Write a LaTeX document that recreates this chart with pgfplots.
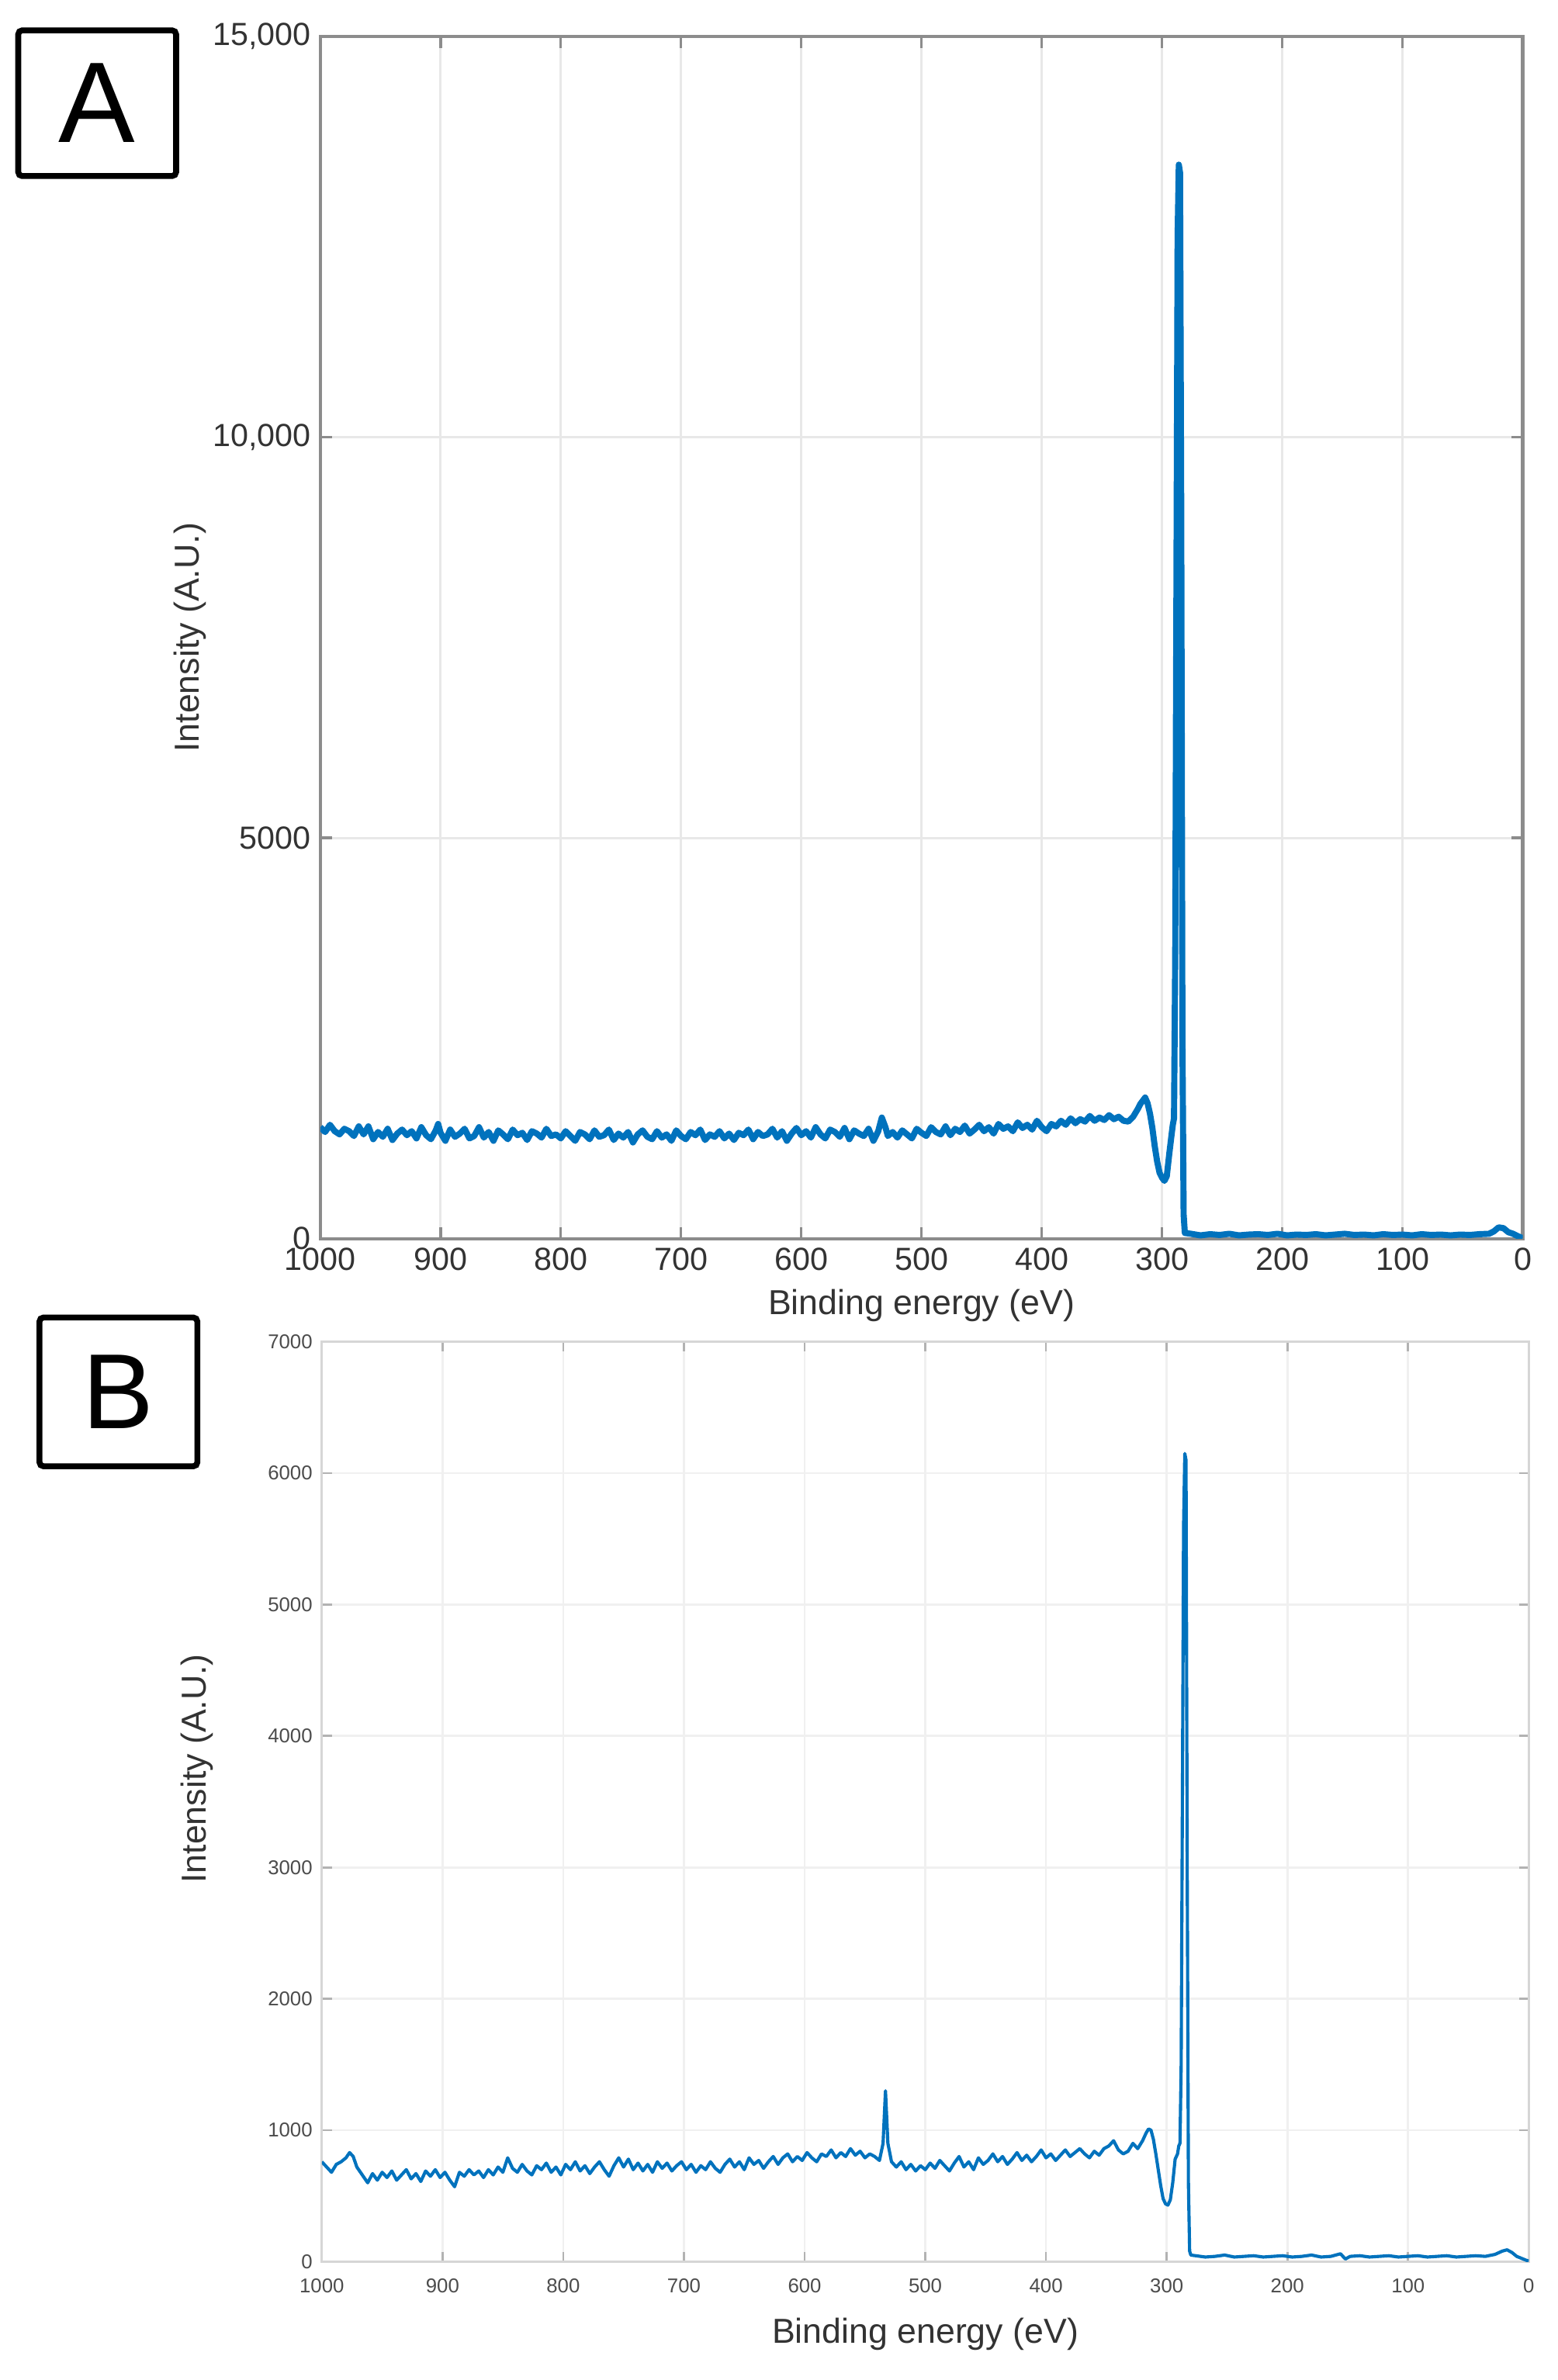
\documentclass[border=0pt]{standalone}
\usepackage{fontspec}
\setmainfont{Liberation Sans}
\usepackage{pgfplots}
\pgfplotsset{compat=1.18}
\definecolor{mblue}{HTML}{0072BD}
\definecolor{axA}{HTML}{8C8C8C}
\definecolor{gridA}{HTML}{E8E8E8}
\definecolor{axB}{HTML}{D6D6D6}
\definecolor{gridB}{HTML}{F0F0F0}
\definecolor{txt}{HTML}{333333}

\pgfplotstableread{
x y
1000 1390
996 1330
992 1420
988 1340
984 1300
980 1370
976 1340
972 1280
968 1400
964 1300
960 1400
956 1240
952 1330
948 1270
944 1370
940 1230
936 1310
932 1360
928 1290
924 1340
920 1250
916 1390
912 1290
908 1240
904 1350
902 1430
900 1320
896 1220
892 1360
888 1270
884 1310
880 1370
876 1250
872 1280
868 1390
864 1260
860 1330
856 1220
852 1350
848 1300
844 1240
840 1360
836 1290
832 1320
828 1230
824 1340
820 1310
816 1260
812 1370
808 1280
804 1300
800 1250
796 1340
792 1280
788 1220
784 1330
780 1300
776 1240
772 1350
768 1270
764 1290
760 1360
756 1230
752 1310
748 1260
744 1330
740 1200
736 1300
732 1350
728 1270
724 1240
720 1340
716 1260
712 1300
708 1220
704 1350
700 1280
696 1240
692 1330
688 1290
684 1360
680 1230
676 1300
672 1270
668 1340
664 1250
660 1310
656 1230
652 1320
648 1290
644 1360
640 1240
636 1330
632 1280
628 1300
624 1370
620 1260
616 1340
612 1220
608 1310
604 1380
600 1290
596 1340
592 1260
588 1390
584 1300
580 1250
576 1360
572 1330
568 1270
564 1380
560 1240
556 1350
552 1310
548 1280
544 1370
540 1220
536 1340
533 1510
530 1390
528 1280
524 1330
520 1260
516 1350
512 1300
508 1250
504 1370
500 1320
496 1280
492 1390
488 1330
484 1300
480 1400
476 1290
472 1370
468 1330
464 1410
460 1310
456 1360
452 1420
448 1340
444 1390
440 1310
436 1430
432 1370
428 1400
424 1340
420 1450
416 1380
412 1420
408 1360
404 1470
400 1390
396 1340
392 1430
388 1400
384 1470
380 1420
376 1500
372 1440
368 1490
364 1460
360 1530
356 1470
352 1510
348 1480
344 1540
340 1490
336 1520
332 1470
328 1460
324 1520
320 1620
318 1680
316 1720
314 1760
312 1690
310 1560
308 1380
306 1150
304 960
302 820
300 760
298 720
296 780
294 1050
292 1300
291 1420
290 1500
289 3500
288 8000
287 12500
286 13400
285 13300
284 9000
283 2500
282 300
281 70
276 60
268 40
260 55
252 45
244 60
236 40
228 50
220 55
212 45
204 60
196 40
188 50
180 45
172 55
164 40
156 50
148 60
140 45
132 50
124 40
116 55
108 45
100 50
92 40
84 55
76 45
68 50
60 40
52 50
44 45
36 55
28 60
24 90
20 140
16 130
12 80
8 60
4 30
0 5
}\dataA

\pgfplotstableread{
x y
1000 760
996 720
992 680
988 740
984 760
980 790
977 830
974 800
971 720
968 680
965 640
962 600
958 670
954 620
950 680
946 640
942 690
938 620
934 660
930 700
926 630
922 670
918 610
914 690
910 650
906 700
902 640
898 680
894 620
890 570
886 680
882 650
878 700
874 660
870 690
866 640
862 700
858 660
854 720
850 680
846 790
842 710
838 680
834 740
830 690
826 660
822 730
818 700
814 750
810 680
806 720
802 660
798 740
794 700
790 760
786 690
782 730
778 670
774 720
770 760
766 700
762 650
758 730
754 790
750 720
746 780
742 700
738 750
734 690
730 740
726 680
722 760
718 710
714 750
710 690
706 730
702 760
698 700
694 740
690 680
686 730
682 700
678 760
674 710
670 680
666 740
662 780
658 720
654 760
650 700
646 790
642 740
638 770
634 710
630 760
626 800
622 740
618 790
614 820
610 760
606 800
602 770
598 830
594 790
590 760
586 820
582 800
578 850
574 790
570 830
566 800
562 860
558 810
554 840
550 790
546 820
542 800
538 770
535 900
533 1300
531 900
528 760
524 720
520 760
516 700
512 740
508 690
504 730
500 700
496 750
492 710
488 770
484 730
480 690
476 750
472 800
468 720
464 760
460 700
456 790
452 740
448 770
444 820
440 760
436 800
432 740
428 780
424 830
420 770
416 810
412 760
408 800
404 850
400 790
396 820
392 770
388 810
384 850
380 800
376 830
372 860
368 820
364 790
360 840
356 810
352 860
348 880
344 920
340 850
336 820
332 840
328 900
324 860
320 920
317 980
315 1010
313 1000
311 930
309 820
307 700
305 580
303 480
301 440
299 430
297 470
295 600
293 780
291 820
290 880
289 900
288 1500
287 3500
286 5600
285 6150
284 6100
283 3000
282 600
281 80
280 50
276 45
268 35
260 40
252 50
244 35
236 40
228 45
220 35
212 40
204 45
196 35
188 40
180 50
172 35
164 40
156 60
152 20
148 40
140 45
132 35
124 40
116 45
108 35
100 40
92 45
84 35
76 40
68 45
60 35
52 40
44 45
36 40
28 55
22 80
18 90
14 70
10 40
6 25
2 10
0 5
}\dataB

\begin{document}
\begin{tikzpicture}
\path[use as bounding box] (0,0) rectangle (20.52,-31.36);

% panel letters
\draw[line width=2.2pt, rounded corners=1.5pt] (0.24,-0.40) rectangle (2.32,-2.32);
\node[font=\fontsize{43}{43}\selectfont, inner sep=0pt] at (1.28,-1.36) {A};
\draw[line width=2.2pt, rounded corners=1.5pt] (0.52,-17.36) rectangle (2.60,-19.32);
\node[font=\fontsize{40}{40}\selectfont, inner sep=0pt] at (1.56,-18.34) {B};

% panel A
\begin{axis}[
  at={(4.22cm,-16.32cm)}, anchor=south west,
  scale only axis, width=15.84cm, height=15.84cm,
  x dir=reverse, xmin=0, xmax=1000, ymin=0, ymax=15000,
  xtick={0,100,...,1000},
  xticklabels={0,100,200,300,400,500,600,700,800,900,1000},
  ytick={0,5000,10000,15000},
  yticklabels={0,5000,{10,000},{15,000}},
  tick align=inside, major tick length=0.15cm,
  axis line style={axA, line width=1.2pt},
  every tick/.style={axA, line width=1pt},
  grid=major, major grid style={gridA, line width=0.9pt},
  tick label style={font=\fontsize{12}{12}\selectfont, text=txt},
  /pgf/number format/assume math mode=true,
  xlabel={Binding energy (eV)}, ylabel={Intensity (A.U.)},
  label style={font=\fontsize{13}{13}\selectfont, text=txt},
  x label style={at={(axis description cs:0.5,0)}, anchor=center, yshift=-0.88cm},
  y label style={at={(axis description cs:-0.1086,0.5)}, anchor=center},
]
\addplot[mblue, line width=2.3pt, line join=round] table[x=x,y=y] {\dataA};
\end{axis}

% panel B
\begin{axis}[
  at={(4.24cm,-29.80cm)}, anchor=south west,
  scale only axis, width=15.90cm, height=12.12cm,
  x dir=reverse, xmin=0, xmax=1000, ymin=0, ymax=7000,
  xtick={0,100,...,1000},
  xticklabels={0,100,200,300,400,500,600,700,800,900,1000},
  ytick={0,1000,...,7000},
  yticklabels={0,1000,2000,3000,4000,5000,6000,7000},
  tick align=inside, major tick length=0.13cm,
  axis line style={axB, line width=0.9pt},
  every tick/.style={black!30, line width=0.8pt},
  grid=major, major grid style={gridB, line width=0.8pt},
  tick label style={font=\fontsize{7.5}{7.5}\selectfont, text=black!70},
  x tick label style={yshift=-0.1cm},
  /pgf/number format/assume math mode=true,
  xlabel={Binding energy (eV)}, ylabel={Intensity (A.U.)},
  label style={font=\fontsize{13}{13}\selectfont, text=txt},
  x label style={at={(axis description cs:0.5,0)}, anchor=center, yshift=-0.96cm},
  y label style={at={(axis description cs:-0.1031,0.536)}, anchor=center},
]
\addplot[mblue, line width=1.2pt, line join=round] table[x=x,y=y] {\dataB};
\end{axis}
\end{tikzpicture}
\end{document}
